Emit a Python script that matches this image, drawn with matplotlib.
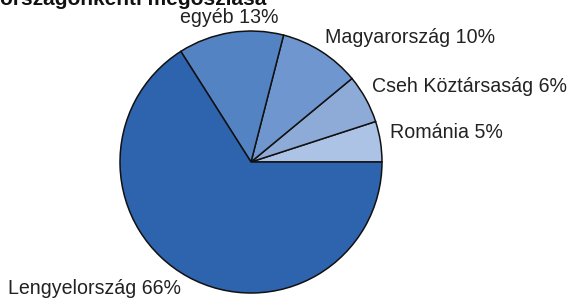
import matplotlib.pyplot as plt

plt.rcParams['font.family'] = ['Liberation Sans', 'DejaVu Sans']

orszagok = ['Románia', 'Cseh Köztársaság', 'Magyarország', 'egyéb', 'Lengyelország']
arany = [5, 6, 10, 13, 66]
szinek = ['#adc3e5', '#8eabd8', '#6f96cf', '#5383c3', '#2e63ad']
cimkek = [f'{o} {a}%' for o, a in zip(orszagok, arany)]

W, H = 571, 302
fig = plt.figure(figsize=(W / 100, H / 100), dpi=100)

# pie centre (251, 162) px, radius 131 px
cx, cy, r = 251, 162, 131
ax = fig.add_axes([(cx - r) / W, (H - cy - r) / H, 2 * r / W, 2 * r / H])
ax.pie(arany, colors=szinek, startangle=0, counterclock=True, radius=1,
       wedgeprops=dict(edgecolor='#111111', linewidth=1.1))
ax.set_xlim(-1, 1)
ax.set_ylim(-1, 1)
ax.axis('off')

# label positions in pixels (x, baseline y, alignment)
pos = [(390, 138, 'left'), (372, 92, 'left'), (325, 43, 'left'),
       (229, 23, 'center'), (8, 294, 'left')]
for txt, (x, y, ha) in zip(cimkek, pos):
    fig.text(x / W, 1 - y / H, txt, ha=ha, va='baseline', fontsize=14.1, color='#222222')

fig.text(0.0, 1 - 5 / H, 'országonkénti megoszlása', ha='left', va='baseline',
         fontsize=15, fontweight='bold', color='#111111')

fig.savefig('out.png', dpi=100)
